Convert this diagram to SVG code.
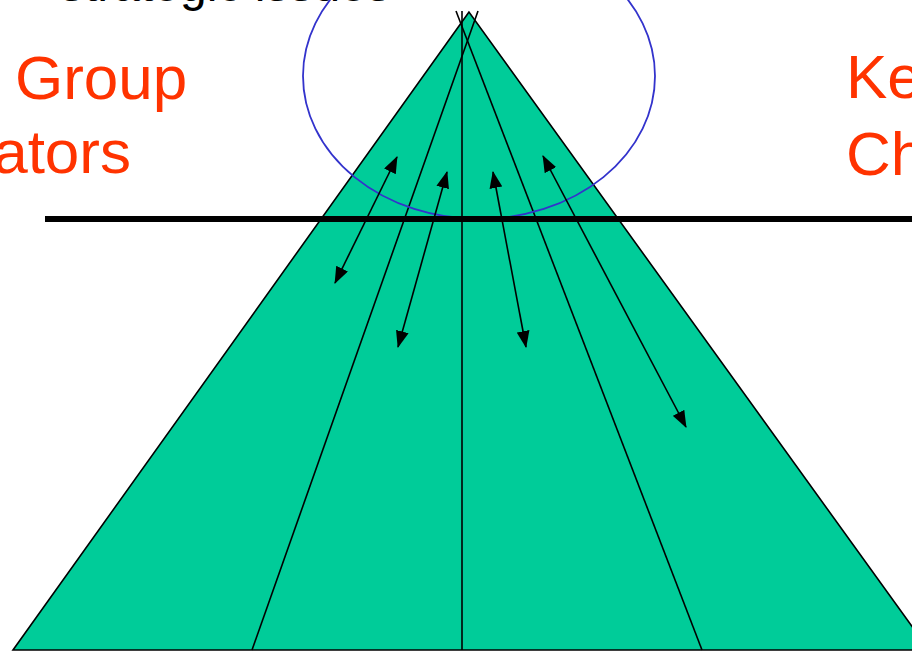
<svg xmlns="http://www.w3.org/2000/svg" width="912" height="652" viewBox="0 0 912 652">
<style>
.lbl{font-family:"Liberation Sans",Arial,sans-serif;font-size:62px;fill:#ff3300}
.top{font-family:"Liberation Sans",Arial,sans-serif;font-size:48px;fill:#000}
.div{stroke:#000;stroke-width:1.6;fill:none}
.arr{stroke:#000;stroke-width:1.6;fill:none;marker-start:url(#ah);marker-end:url(#ah)}
</style>
<defs>
<marker id="ah" viewBox="0 0 17 13" refX="16" refY="6.5" markerWidth="17" markerHeight="13" markerUnits="userSpaceOnUse" orient="auto-start-reverse">
<path d="M0,0 L17,6.5 L0,13 Z" fill="#000"/>
</marker>
</defs>
<rect width="912" height="652" fill="#fff"/>
<text class="top" x="60" y="0.6">strategic issues</text>
<g id="pyramid">
<polygon points="469,12 13,650 929,650" fill="#00cc99" stroke="#000" stroke-width="1.6"/>
</g>
<g id="dividers">
<line class="div" x1="478" y1="11" x2="252" y2="650"/>
<line class="div" x1="462" y1="11" x2="462" y2="650"/>
<line class="div" x1="456" y1="11" x2="702" y2="650"/>
</g>
<g id="circle">
<ellipse cx="479" cy="76" rx="176" ry="143" fill="none" stroke="#3333cc" stroke-width="1.8"/>
</g>
<g id="divider-line">
<line x1="45" y1="219" x2="912" y2="219" stroke="#000" stroke-width="6"/>
</g>
<g id="connectors">
<line class="arr" x1="397" y1="157" x2="335" y2="283"/>
<line class="arr" x1="447" y1="172" x2="398" y2="347"/>
<line class="arr" x1="493" y1="172" x2="526" y2="347"/>
<line class="arr" x1="543" y1="156" x2="686" y2="427"/>
</g>
<g id="label-left">
<text class="lbl" x="15" y="99">Group</text>
<text class="lbl" x="131" y="173" text-anchor="end">ators</text>
</g>
<g id="label-right">
<text class="lbl" x="846" y="98">Ke</text>
<text class="lbl" x="846" y="175">Ch</text>
</g>
</svg>
